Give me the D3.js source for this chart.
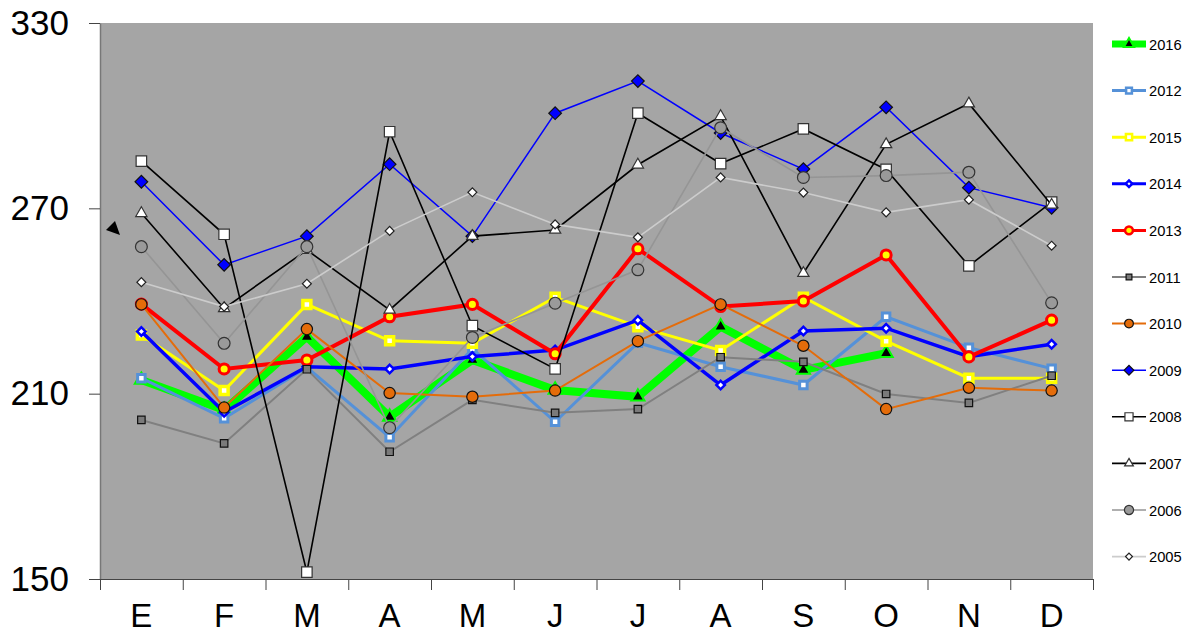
<!DOCTYPE html>
<html><head><meta charset="utf-8">
<script src="https://cdn.jsdelivr.net/npm/d3@7"></script>
<style>body{margin:0;background:#fff}svg{display:block;font-family:"Liberation Sans",Arial,sans-serif}</style>
</head><body><svg id="c" width="1186" height="634"></svg>
<script>
const months = ["E","F","M","A","M","J","J","A","S","O","N","D"];
const yTicks = [150,210,270,330];
const years = ["2016","2012","2015","2014","2013","2011","2010","2009","2008","2007","2006","2005"];
const v2016 = [214.4,204.7,228.4,202.5,220.9,211.2,209.0,231.7,217.7,223.1,null,null];
const v2012 = [215,202,218.5,195.9,224.5,200.9,226.5,218.7,212.8,234.9,224.9,218.1];
const v2015 = [229,211,238.9,227.1,226.3,241.2,231.7,224,241.2,227,215,215];
const v2014 = [230.1,204,218.7,218,222,224.1,233.8,212.8,230.3,231.2,222,226];
const v2013 = [239,218,220.9,234.9,238.9,222.9,256.9,238.2,240,254.9,221.9,233.8];
const v2011 = [201.5,193.9,217.9,191.2,208,203.8,205,221.8,220.3,209.9,207,215.8];
const v2010 = [238.9,205.5,230.9,210.2,209,211,227,238.9,225.5,205,211.9,211];
const v2009 = [278.6,251.7,261,284.3,261,300.8,311.2,294.4,282.7,302.7,276.7,270.2];
const v2008 = [285.3,261.6,152.2,294.8,232,218,300.8,284.5,295.7,282.6,251.4,272];
const v2007 = [268.4,237.6,256.5,237.1,261,263,284.1,299.8,249,290.7,303.9,271.1];
const v2006 = [257.6,226.3,257.6,199,228.2,239.3,250.1,296.1,280,280.6,281.7,239.4];
const v2005 = [246.1,238.2,245.6,262.7,275.2,264.8,260.6,280,275.1,268.7,272.8,257.9];
const values = [v2016,v2012,v2015,v2014,v2013,v2011,v2010,v2009,v2008,v2007,v2006,v2005];

const styles = [
 {c:"#00ff00",w:8,sym:"tri",size:75,fill:"#000",stroke:"#00ff00",sw:2},
 {c:"#5591d8",w:3,sym:"sq",size:56,fill:"#fff",stroke:"#5591d8",sw:3},
 {c:"#ffff00",w:3,sym:"sq",size:64,fill:"#fff",stroke:"#ffff00",sw:3.5},
 {c:"#0000ff",w:3.5,sym:"dia",size:36,fill:"#fff",stroke:"#0000ff",sw:2.5},
 {c:"#ff0000",w:4,sym:"circ",size:80,fill:"#ffff00",stroke:"#ff0000",sw:3},
 {c:"#808080",w:2,sym:"sq",size:56,fill:"#7a7a7a",stroke:"#111",sw:1.2},
 {c:"#e46c0a",w:2,sym:"circ",size:100,fill:"#e46c0a",stroke:"#111",sw:1.2},
 {c:"#0000ff",w:1.5,sym:"dia",size:80,fill:"#0000ff",stroke:"#111",sw:1.2},
 {c:"#000000",w:1.6,sym:"sq",size:110,fill:"#fff",stroke:"#333",sw:1.2},
 {c:"#000000",w:1.6,sym:"tri",size:55,fill:"#fff",stroke:"#333",sw:1.2},
 {c:"#959595",w:1.6,sym:"circ",size:110,fill:"#9a9a9a",stroke:"#333",sw:1.2},
 {c:"#cccccc",w:1.6,sym:"dia",size:40,fill:"#fff",stroke:"#222",sw:1.2}
];

const svg = d3.select("#c");
const L=100, R=1093, T=23, B=579;
const x = d3.scaleBand().domain(d3.range(12)).range([L,R]);
const xb = d3.scaleLinear().domain([0,12]).range([L,R]);
const y = d3.scaleLinear().domain([150,330]).range([B,T]);

svg.append("rect").attr("x",L).attr("y",T).attr("width",R-L).attr("height",B-T).attr("fill","#a5a5a5");

// y axis
const ya = svg.append("g").attr("transform",`translate(${L},0)`)
  .call(d3.axisLeft(y).tickValues(yTicks).tickSize(11).tickPadding(20).tickSizeOuter(0));
ya.select(".domain").attr("stroke","#777").attr("stroke-width",1.5);
ya.selectAll(".tick line").attr("stroke","#444");
ya.selectAll("text").attr("font-size",35).attr("fill","#000").attr("font-family","Liberation Sans, Arial, sans-serif");

// x axis
const xa = svg.append("g").attr("transform",`translate(0,${B})`)
  .call(d3.axisBottom(xb).tickValues(d3.range(13)).tickSize(11).tickFormat("").tickSizeOuter(0));
xa.select(".domain").attr("stroke","#444").attr("stroke-width",1.2);
xa.selectAll(".tick line").attr("stroke","#444");
svg.append("g").selectAll("text").data(months).join("text")
  .attr("x",(d,i)=>x(i)+x.bandwidth()/2).attr("y",627).attr("text-anchor","middle")
  .attr("font-size",33).attr("fill","#000").text(d=>d);

function symPath(s, scale){
  const k = scale||1;
  if(s.sym==="sq") return {d:d3.symbol(d3.symbolSquare, s.size*k)(), rot:0};
  if(s.sym==="dia") return {d:d3.symbol(d3.symbolSquare, s.size*k)(), rot:45};
  if(s.sym==="tri") return {d:d3.symbol(d3.symbolTriangle, s.size*k)(), rot:0};
  return {d:d3.symbol(d3.symbolCircle, s.size*k)(), rot:0};
}

const line = d3.line().defined(d=>d!=null).x((d,i)=>x(i)+x.bandwidth()/2).y(d=>y(d));
const plot = svg.append("g");
values.forEach((vals,si)=>{
  const s = styles[si];
  const g = plot.append("g");
  g.append("path").attr("d",line(vals)).attr("fill","none").attr("stroke",s.c)
   .attr("stroke-width",s.w).attr("stroke-linejoin","miter");
  const sp = symPath(s);
  g.selectAll("path.m").data(vals.map((v,i)=>({v,i})).filter(d=>d.v!=null)).join("path")
   .attr("class","m").attr("d",sp.d)
   .attr("transform",d=>`translate(${x(d.i)+x.bandwidth()/2},${y(d.v)}) rotate(${sp.rot})`)
   .attr("fill",s.fill).attr("stroke",s.stroke).attr("stroke-width",s.sw);
});

// stray marker
svg.append("path").attr("d","M106,230 L115,221 L120,235 Z").attr("fill","#000");

// legend
const lg = svg.append("g");
years.forEach((yr,i)=>{
  const s = styles[i];
  const cy = 44 + i*46.6;
  const g = lg.append("g");
  g.append("line").attr("x1",1112).attr("x2",1146).attr("y1",cy).attr("y2",cy)
   .attr("stroke",s.c).attr("stroke-width",Math.min(s.w, i===0?7:3));
  const sp = symPath(s, 0.6);
  g.append("path").attr("d",sp.d).attr("transform",`translate(1129,${cy}) rotate(${sp.rot})`)
   .attr("fill",s.fill).attr("stroke",s.stroke).attr("stroke-width",Math.min(s.sw,2.5));
  g.append("text").attr("x",1149).attr("y",cy+5.5).attr("font-size",14.7).attr("fill","#000").text(yr);
});
</script></body></html>
